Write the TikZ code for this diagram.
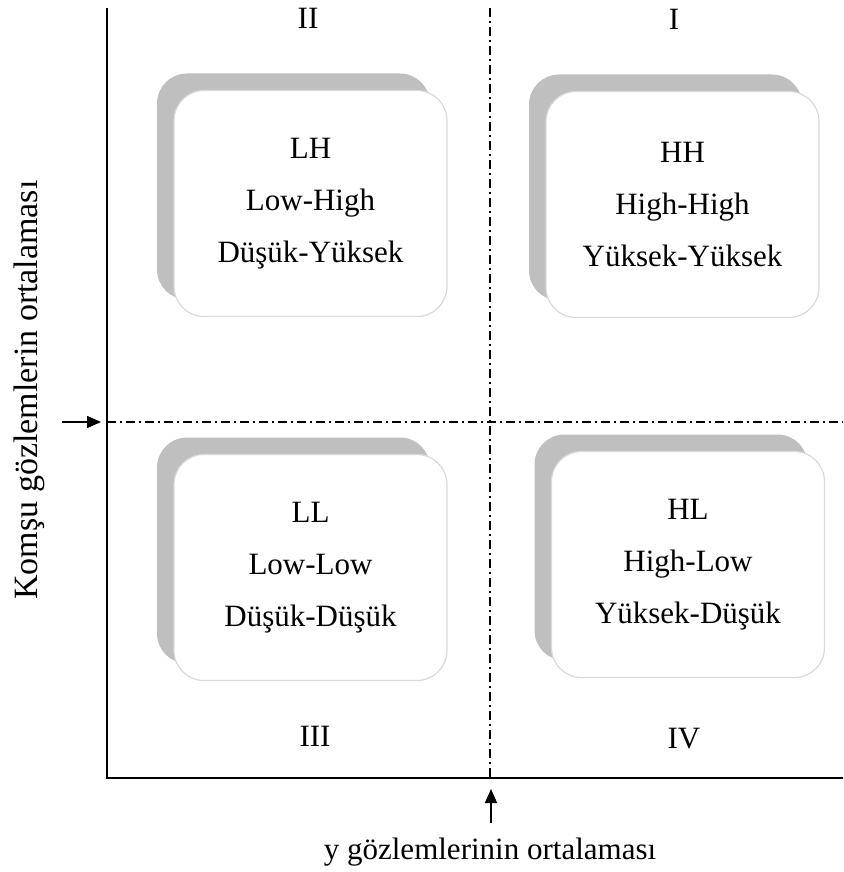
\documentclass[tikz,border=0pt]{standalone}
\usepackage{fontspec}
\setmainfont{Liberation Serif}
\usetikzlibrary{arrows.meta,shadows}
\begin{document}
\begin{tikzpicture}[x=1pt,y=-1pt,
  quad/.style={draw=gray!30, line width=1.2pt, fill=white, rounded corners=30pt,
    minimum width=273pt, minimum height=226pt, align=center, inner sep=0pt,
    font=\fontsize{31}{52}\selectfont,
    copy shadow={shadow xshift=-17pt, shadow yshift=17pt, fill=gray!50, draw=none}},
  roman/.style={anchor=base, font=\fontsize{31}{36}\selectfont},
  axis/.style={line width=2.2pt},
  dd/.style={line width=1.2pt, dash pattern=on 9pt off 4pt on 2pt off 4pt},
  arr/.style={line width=1.6pt, -{Triangle[length=14pt,width=12pt]}}]
\useasboundingbox (0,0) rectangle (843,872);
% axes
\coordinate (ytop) at (107,8);
\coordinate (orig) at (107,778);
\coordinate (xend) at (843,778);
\coordinate (hl) at (107,422);
\coordinate (hr) at (843,422);
\coordinate (vt) at (490,8);
\coordinate (vb) at (490,778);
\draw[dd] (hl) -- (hr);
\draw[dd] (vt) -- (vb);
% boxes
\node[quad] (LH) at (310.5,203.5) {LH\\Low-High\\Düşük-Yüksek};
\node[quad] (HH) at (682.5,204.5) {HH\\High-High\\Yüksek-Yüksek};
\node[quad] (LL) at (310.5,567.5) {LL\\Low-Low\\Düşük-Düşük};
\node[quad] (HL) at (688,564.5) {HL\\High-Low\\Yüksek-Düşük};
\draw[axis] (ytop) -- (orig) -- (xend);
% quadrant numbers
\node[roman] (q2) at (308,29) {II};
\node[roman] (q1) at (674,30) {I};
\node[roman] (q3) at (315,746) {III};
\node[roman] (q4) at (684,748) {IV};
% arrows
\coordinate (la) at (62,422);
\coordinate (lt) at (101,422);
\draw[arr] (la) -- (lt);
\coordinate (ba) at (491,823);
\coordinate (bt) at (491,789);
\draw[arr] (ba) -- (bt);
% axis labels
\node[anchor=base, font=\fontsize{31}{36}\selectfont] (xl) at (490,859) {y gözlemlerinin ortalaması};
\node[anchor=base, rotate=90, font=\fontsize{34}{40}\selectfont] (yl) at (37,390) {Komşu gözlemlerin ortalaması};
\end{tikzpicture}
\end{document}
